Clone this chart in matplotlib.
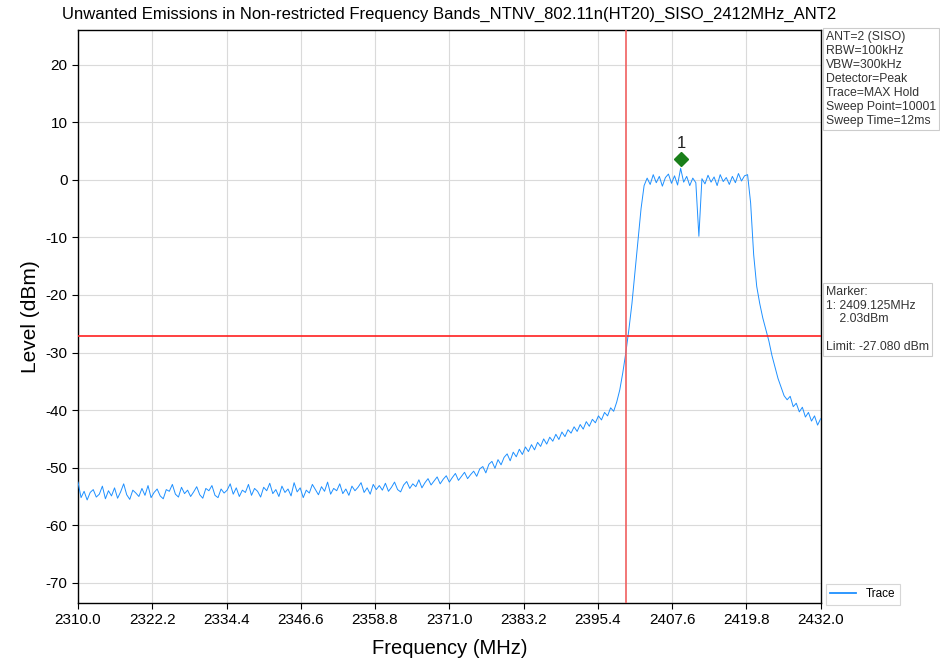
import numpy as np
import matplotlib
matplotlib.use("Agg")
import matplotlib.pyplot as plt

plt.rcParams['font.family'] = ['Liberation Sans', 'DejaVu Sans']
plt.rcParams['axes.unicode_minus'] = False

# ---- data ----
freq_start = 2310.0
freq_stop = 2432.0
level = [
    # 2310.0 - 2334.5
    -52.5, -55.2, -54.1, -55.6, -54.3, -53.8, -55.1, -54.6, -53.2, -55.4,
    -54.0, -54.9, -53.5, -55.3, -54.2, -52.8, -54.7, -55.5, -53.9, -54.4,
    -55.0, -53.6, -54.8, -53.1, -55.2, -54.3, -53.7, -54.9, -55.4, -53.8,
    -54.1, -52.9, -54.6, -55.1, -53.4, -54.5, -53.9, -55.0, -54.2, -53.3,
    -54.7, -55.3, -53.6, -54.0, -53.1, -54.8, -55.2, -53.7, -54.4, -53.9,
    # 2335.0 - 2359.5
    -52.8, -54.6, -53.5, -55.0, -53.9, -54.3, -52.9, -54.8, -53.6, -54.1,
    -55.1, -53.4, -54.0, -52.7, -54.5, -53.8, -55.0, -53.2, -54.3, -53.7,
    -54.9, -52.6, -54.2, -53.5, -55.2, -53.9, -54.4, -52.9, -53.8, -54.7,
    -53.3, -54.1, -52.5, -54.6, -53.6, -54.0, -52.8, -54.5, -53.7, -54.8,
    -53.2, -54.0, -53.4, -52.6, -54.3, -53.5, -54.6, -52.9, -53.8, -53.1,
    # 2360.0 - 2374.5
    -53.9, -52.7, -54.1, -53.4, -52.5, -53.8, -54.2, -53.0, -52.4, -53.6,
    -52.8, -53.3, -52.1, -53.5, -52.6, -51.9, -53.0, -52.3, -51.6, -52.8,
    -52.0, -51.4, -52.5, -51.7, -51.0, -52.2, -51.5, -50.8, -51.9, -51.2,
    # 2375.0 - 2384.5
    -50.6, -51.5, -50.2, -49.8, -50.9, -49.4, -48.9, -50.1, -48.6, -49.5,
    -48.2, -47.6, -48.8, -47.3, -48.1, -46.8, -47.7, -46.4, -47.2, -46.0,
    # 2385.0 - 2394.5
    -46.9, -45.6, -46.3, -45.0, -45.9, -44.7, -45.4, -44.2, -45.1, -43.8,
    -44.6, -43.4, -44.0, -42.9, -43.7, -42.5, -43.3, -42.0, -42.8, -41.6,
    # 2395.0 - 2398.5
    -42.2, -41.0, -41.7, -40.4, -41.0, -39.6, -40.2, -38.6,
    # 2399.0 - 2403.0
    -36.5, -33.5, -30.0, -26.0, -21.5, -16.0, -10.5, -5.0, -1.0,
    # 2403.5 - 2420.0
    0.3, -0.8, 0.9, -0.5, 0.6, -1.1, 0.4, 1.0, -0.6, 0.7,
    -0.9, 2.0, -0.4, 0.6, -1.0, 0.3, -0.5, -9.8, 0.2, -0.7,
    0.8, -0.4, 0.5, -1.0, 0.9, -0.3, 0.4, -0.8, 0.6, -0.5,
    1.1, -0.2, 0.7, 0.9,
    # 2420.5 - 2432.0
    -4.0, -13.0, -18.5, -21.5, -24.0, -26.0, -28.0, -30.5, -32.5, -34.5,
    -36.0, -37.5, -38.2, -37.6, -39.4, -38.8, -40.3, -39.5, -41.2, -40.4,
    -41.9, -41.0, -42.6, -41.5,
]
freq = np.linspace(freq_start, freq_stop, len(level))

x_ticks = [2310.0, 2322.2, 2334.4, 2346.6, 2358.8, 2371.0, 2383.2, 2395.4, 2407.6, 2419.8, 2432.0]
y_ticks = [-70, -60, -50, -40, -30, -20, -10, 0, 10, 20]

limit_level = -27.080
edge_freq = 2400.0
marker_freq = 2409.125
marker_level = 2.03

settings_text = ("ANT=2 (SISO)\nRBW=100kHz\nVBW=300kHz\nDetector=Peak\n"
                 "Trace=MAX Hold\nSweep Point=10001\nSweep Time=12ms")
marker_text = ("Marker:\n1: 2409.125MHz\n    2.03dBm\n\nLimit: -27.080 dBm")

# ---- figure ----
fig = plt.figure(figsize=(9.4, 6.7), dpi=100)
ax = fig.add_axes([0.083, 0.100, 0.790, 0.855])

ax.plot(freq, level, color='#1e90ff', lw=0.7, label='Trace', zorder=3)
ax.axhline(limit_level, color='#ff2020', lw=1.2, zorder=4)
ax.axvline(edge_freq, color='#f06060', lw=1.2, zorder=4)

ax.plot([marker_freq], [marker_level + 1.6], marker='D', color='#1a7f1a',
        markersize=7, zorder=5)
ax.text(marker_freq, marker_level + 3.0, '1', ha='center', va='bottom',
        fontsize=12, color='#222222', zorder=5)

ax.set_xlim(freq_start, freq_stop)
ax.set_ylim(-73.5, 26)
ax.set_xticks(x_ticks)
ax.set_xticklabels([f"{v:.1f}" for v in x_ticks])
ax.set_yticks(y_ticks)
ax.tick_params(labelsize=11, direction='out', length=4)
ax.grid(True, color='#dadada', lw=0.8)
ax.set_axisbelow(True)

ax.set_xlabel('Frequency (MHz)', fontsize=14.5, labelpad=8)
ax.set_ylabel('Level (dBm)', fontsize=15, labelpad=4)
ax.set_title('Unwanted Emissions in Non-restricted Frequency Bands_NTNV_802.11n(HT20)_SISO_2412MHz_ANT2',
             fontsize=12, pad=8)

for s in ax.spines.values():
    s.set_color('black')
    s.set_linewidth(1.0)

box = dict(boxstyle='square,pad=0.25', facecolor='white', edgecolor='#cccccc', lw=0.8)
fig.text(0.879, 0.953, settings_text, ha='left', va='top', fontsize=8.8,
         linespacing=1.22, color='#333333', bbox=box)
fig.text(0.879, 0.573, marker_text, ha='left', va='top', fontsize=8.8,
         linespacing=1.18, color='#333333', bbox=box)

leg = fig.legend(loc='lower left', bbox_to_anchor=(0.872, 0.088), fontsize=8.5,
                 frameon=True, fancybox=False, handlelength=2.2, borderpad=0.4)
leg.get_frame().set_edgecolor('#cccccc')
leg.get_frame().set_linewidth(0.8)
for h in leg.get_lines():
    h.set_linewidth(1.3)

fig.savefig('out.png', dpi=100)
